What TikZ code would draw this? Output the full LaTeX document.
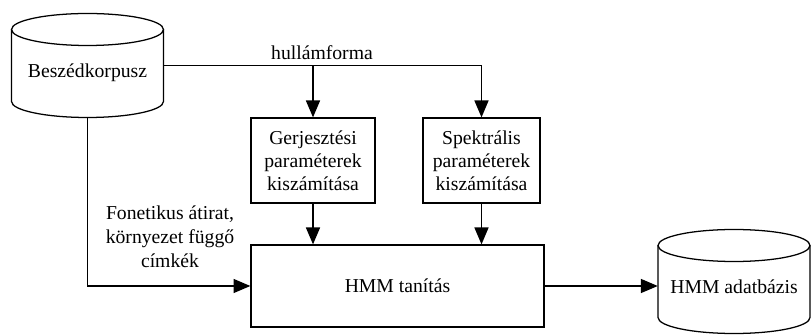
\documentclass[tikz,border=0pt]{standalone}
\usepackage{fontspec}
\setmainfont{Liberation Serif}
\usetikzlibrary{positioning}
\usetikzlibrary{arrows.meta}
\tikzset{
	doboz/.style={draw, line width=0.9pt, align=center, inner sep=0pt,
		font=\fontsize{14}{16.5}\selectfont},
	felirat/.style={align=center, inner sep=0pt, font=\fontsize{14}{17}\selectfont},
	nyil/.style={line width=0.9pt, -{Triangle[length=12pt,width=10pt]}},
	vonal/.style={line width=0.9pt}
}
\tikzset{
	adattar/.pic={
		\draw[vonal] (-1.9,0.9) -- (-1.9,-0.9) arc[start angle=180, end angle=360, x radius=1.9, y radius=0.4] -- (1.9,0.9);
		\draw[vonal] (0,0.9) ellipse [x radius=1.9, y radius=0.4];
		\node[felirat, minimum width=3.8cm, minimum height=2.6cm, text height=1.9em, text depth=0.25em] (-k) at (0,0) {#1};
	}
}

\begin{document}
\begin{tikzpicture}
			\useasboundingbox (0,0) rectangle (20.3,8.375);
			\pic (korpusz) at (2.1875,6.7375) {adattar=Beszédkorpusz};
			\node[doboz, minimum width=3.1cm, minimum height=2.125cm] (gerj) at (7.825,4.3625) {Gerjesztési\\paraméterek\\kiszámítása};
			\node[doboz, minimum width=2.925cm, minimum height=2.125cm] (spekt) at (12.0375,4.3625) {Spektrális\\paraméterek\\kiszámítása};
			\node[doboz, minimum width=7.325cm, minimum height=2.05cm] (hmm) at (9.9375,1.225) {HMM tanítás};
			\pic (adatb) at (18.35,1.3375) {adattar={HMM adatbázis}};
			\coordinate (elagazas) at (spekt.north |- korpusz-k.east);
			\node[felirat, anchor=south] (hullam) at (8.05,6.87) {hullámforma};
			\node[felirat] (fonetika) at (4.25,2.45) {Fonetikus átirat,\\környezet függő\\címkék};
			\draw[vonal] (korpusz-k.east) -- (elagazas);
			\draw[nyil] (korpusz-k.east -| gerj.north) -- (gerj.north);
			\draw[nyil] (elagazas) -- (spekt.north);
			\draw[nyil] (gerj.south) -- (gerj.south |- hmm.north);
			\draw[nyil] (spekt.south) -- (spekt.south |- hmm.north);
			\draw[nyil] (korpusz-k.south) |- (hmm.west);
			\draw[nyil] (hmm.east) -- (hmm.east -| adatb-k.west);
\end{tikzpicture}
\end{document}
